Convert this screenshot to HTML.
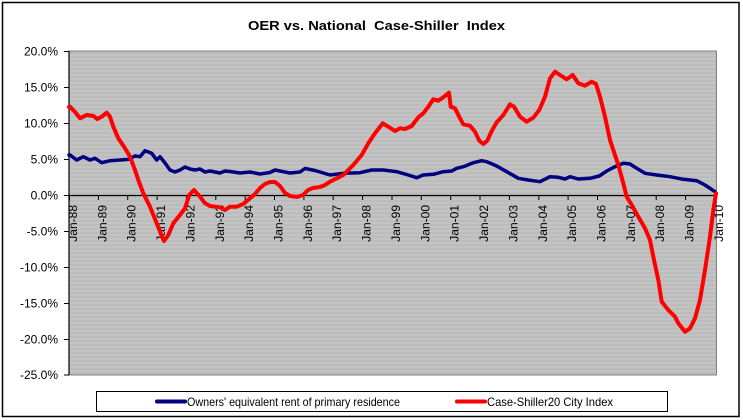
<!DOCTYPE html>
<html><head><meta charset="utf-8"><style>
html,body{margin:0;padding:0;background:#fff;}
svg{display:block;font-family:"Liberation Sans",Arial,sans-serif;}
</style></head><body>
<svg width="743" height="420" viewBox="0 0 743 420" xmlns="http://www.w3.org/2000/svg">
<defs>
<pattern id="st" width="8" height="4" patternUnits="userSpaceOnUse">
<rect width="8" height="4" fill="#c3c3c3"/>
<rect y="0" width="8" height="2" fill="#bcbcbc"/>
</pattern>
</defs>
<rect x="0" y="0" width="743" height="420" fill="#fff"/>
<rect x="2.5" y="2.5" width="736.5" height="414" fill="#fff" stroke="#000" stroke-width="1.5"/>
<text x="248" y="30" font-size="13" font-weight="bold" textLength="257" lengthAdjust="spacingAndGlyphs">OER vs. National&#160; Case-Shiller&#160; Index</text>
<rect x="69" y="51" width="647.5" height="324" fill="url(#st)" stroke="#808080" stroke-width="1"/>
<line x1="69" y1="51" x2="69" y2="375" stroke="#000" stroke-width="1.2"/>
<g stroke="#000" stroke-width="1">
<line x1="64" y1="51.5" x2="69" y2="51.5"/><line x1="64" y1="87.5" x2="69" y2="87.5"/><line x1="64" y1="123.5" x2="69" y2="123.5"/><line x1="64" y1="159.5" x2="69" y2="159.5"/><line x1="64" y1="195.5" x2="69" y2="195.5"/><line x1="64" y1="231.5" x2="69" y2="231.5"/><line x1="64" y1="267.5" x2="69" y2="267.5"/><line x1="64" y1="303.5" x2="69" y2="303.5"/><line x1="64" y1="339.5" x2="69" y2="339.5"/><line x1="64" y1="375" x2="69" y2="375"/>
</g>
<g font-size="12" text-anchor="end" fill="#000">
<text x="58" y="55.5">20.0%</text><text x="58" y="91.5">15.0%</text><text x="58" y="127.5">10.0%</text><text x="58" y="163.5">5.0%</text><text x="58" y="199.5">0.0%</text><text x="58" y="235.5">-5.0%</text><text x="58" y="271.5">-10.0%</text><text x="58" y="307.5">-15.0%</text><text x="58" y="343.5">-20.0%</text><text x="58" y="379">-25.0%</text>
</g>
<line x1="69" y1="195.5" x2="716.5" y2="195.5" stroke="#000" stroke-width="1.2"/>
<g stroke="#000" stroke-width="1">
<line x1="69.5" y1="195" x2="69.5" y2="200"/><line x1="98.4" y1="195" x2="98.4" y2="200"/><line x1="127.7" y1="195" x2="127.7" y2="200"/><line x1="157.1" y1="195" x2="157.1" y2="200"/><line x1="186.4" y1="195" x2="186.4" y2="200"/><line x1="215.8" y1="195" x2="215.8" y2="200"/><line x1="245.2" y1="195" x2="245.2" y2="200"/><line x1="274.5" y1="195" x2="274.5" y2="200"/><line x1="303.9" y1="195" x2="303.9" y2="200"/><line x1="333.2" y1="195" x2="333.2" y2="200"/><line x1="362.6" y1="195" x2="362.6" y2="200"/><line x1="392" y1="195" x2="392" y2="200"/><line x1="421.3" y1="195" x2="421.3" y2="200"/><line x1="450.7" y1="195" x2="450.7" y2="200"/><line x1="480" y1="195" x2="480" y2="200"/><line x1="509.4" y1="195" x2="509.4" y2="200"/><line x1="538.8" y1="195" x2="538.8" y2="200"/><line x1="568.1" y1="195" x2="568.1" y2="200"/><line x1="597.5" y1="195" x2="597.5" y2="200"/><line x1="626.8" y1="195" x2="626.8" y2="200"/><line x1="656.2" y1="195" x2="656.2" y2="200"/><line x1="685.6" y1="195" x2="685.6" y2="200"/><line x1="714.9" y1="195" x2="714.9" y2="200"/>
</g>
<g font-size="12" text-anchor="end" fill="#000">
<text transform="translate(77,205) rotate(-90)">Jan-88</text>
<text transform="translate(106.4,205) rotate(-90)">Jan-89</text>
<text transform="translate(135.7,205) rotate(-90)">Jan-90</text>
<text transform="translate(165.1,205) rotate(-90)">Jan-91</text>
<text transform="translate(194.4,205) rotate(-90)">Jan-92</text>
<text transform="translate(223.8,205) rotate(-90)">Jan-93</text>
<text transform="translate(253.2,205) rotate(-90)">Jan-94</text>
<text transform="translate(282.5,205) rotate(-90)">Jan-95</text>
<text transform="translate(311.9,205) rotate(-90)">Jan-96</text>
<text transform="translate(341.2,205) rotate(-90)">Jan-97</text>
<text transform="translate(370.6,205) rotate(-90)">Jan-98</text>
<text transform="translate(400,205) rotate(-90)">Jan-99</text>
<text transform="translate(429.3,205) rotate(-90)">Jan-00</text>
<text transform="translate(458.7,205) rotate(-90)">Jan-01</text>
<text transform="translate(488,205) rotate(-90)">Jan-02</text>
<text transform="translate(517.4,205) rotate(-90)">Jan-03</text>
<text transform="translate(546.8,205) rotate(-90)">Jan-04</text>
<text transform="translate(576.1,205) rotate(-90)">Jan-05</text>
<text transform="translate(605.5,205) rotate(-90)">Jan-06</text>
<text transform="translate(634.8,205) rotate(-90)">Jan-07</text>
<text transform="translate(664.2,205) rotate(-90)">Jan-08</text>
<text transform="translate(693.6,205) rotate(-90)">Jan-09</text>
<text transform="translate(722.9,205) rotate(-90)">Jan-10</text>
</g>
<polyline fill="none" stroke="#000080" stroke-width="3.5" stroke-linejoin="round" stroke-linecap="round" points="69,155 70,155 76.7,160 83.3,156.7 90,160 95,158.3 101.7,162.7 110,160.7 120,160 128.3,159.3 135,156 140,156.7 145,150.7 151.7,153.3 156.7,160 160,156.7 165,163 170,170 175,172 180,170 185,167 190,169 195,170 200,169 205,172 210,171 215,172 220,173 225,171 230,171.5 240,173 250,172 260,174 270,172.5 275,170 280,171 290,173 300,172 305,168.5 315,170.5 325,173.5 330,175 343.3,173.3 360,172.7 371.7,170 383.3,170 396.7,171.7 408.3,175 416.7,177.7 423.3,175 433.3,174.3 443.3,171.7 451.7,171 456.7,168.3 463.3,166.7 473.3,162.7 481.7,160.7 486.7,161.7 496.7,166 506.7,171.7 518.3,178.3 528.3,180 540,181.7 550,176.7 558.3,177.3 565,179 570,176.7 578.3,179 590,178.3 599.3,176 606.7,171 615,166.7 623.3,163.3 630,164 636.7,168.3 645,173.3 656.7,175 670,176.7 683.3,179.3 696.7,180.7 705,185 715,191.7"/>
<polyline fill="none" stroke="#ff0000" stroke-width="4" stroke-linejoin="round" stroke-linecap="round" points="69,107 70,106.7 75,112 80,118.3 86.7,115 93.3,116 97.3,119 101.7,116.7 106.7,112.7 110,116.7 113.3,126.7 118.3,138.3 125,148.3 130,156.7 135,170 138.3,180 143.3,193.3 150,206.7 156.7,223.3 160.7,233.3 164,241 168.3,235 173.3,223.3 180,215 185,208.3 189.3,195 194,190 200,196.7 205,203.3 210,206 220,207.3 225,210 230,206.7 236.7,206.7 243.3,204 250,198.3 255,194 260,188 265,184 270,182 275,182 280,186 285,193 290,196 297,197 303,195 308,190 313,188 320,187 325,185 330,181.7 343.3,175 353.3,165 361.7,155 368.3,143.3 375,133.3 382.7,123.3 388.3,126.7 395,131 400,128.3 405,129 411.7,126 418.3,117.3 423.3,113.3 428.3,106.7 433.3,99.3 438.3,100.7 443.3,97.3 449,92.7 450.7,106.7 455,108.3 460,118.3 463.3,124.3 470,125.7 475,131.7 479.3,140.7 483.3,144 487.3,140.7 491.7,131 496.7,122.3 503.3,115 510,104.3 514,106.7 520,116.7 526.7,121.7 533.3,117.7 539.3,110 545,96.7 550,78.3 555,71.7 560,75 566.7,79.3 572.7,75 578.3,83.3 585,85.7 591.7,81.7 596,84 600,96.7 605,116.7 610,140 613.3,150 618.3,165 623.3,183.3 626.7,196.7 631.7,205 638.3,216.7 645,228.3 650,240 653.3,256.7 658.3,280 661.7,301.7 668.3,310 675,316.7 678.3,323.3 685,331.7 690,328.3 695,318.3 700,300 705,270 710,236.7 713.3,210 716,193.3"/>
<rect x="96.5" y="391.5" width="571" height="20" fill="#fff" stroke="#000" stroke-width="1"/>
<line x1="157" y1="401.5" x2="185" y2="401.5" stroke="#000080" stroke-width="4" stroke-linecap="round"/>
<text x="187" y="406" font-size="12" textLength="213" lengthAdjust="spacingAndGlyphs">Owners' equivalent rent of primary residence</text>
<line x1="457" y1="401.5" x2="485" y2="401.5" stroke="#ff0000" stroke-width="4" stroke-linecap="round"/>
<text x="487" y="406" font-size="12" textLength="126" lengthAdjust="spacingAndGlyphs">Case-Shiller20 City Index</text>
</svg>
</body></html>
